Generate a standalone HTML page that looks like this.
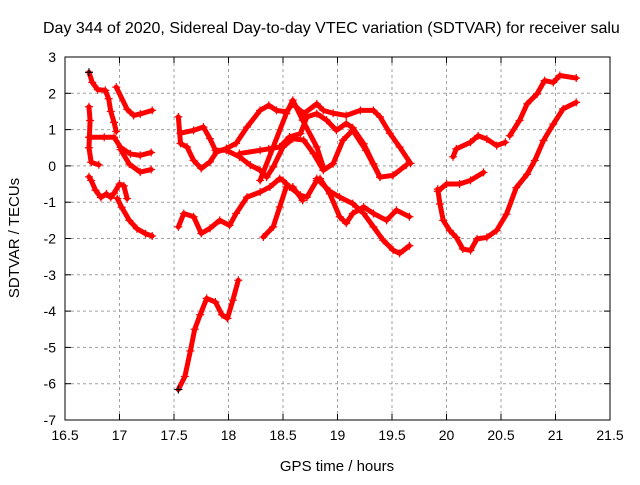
<!DOCTYPE html>
<html><head><meta charset="utf-8"><style>
body{margin:0;background:#fff;}
svg text{font-family:"Liberation Sans",sans-serif;font-size:14px;fill:#000;}
</style></head><body>
<svg id="c" width="640" height="480">
<rect width="640" height="480" fill="#fff"/>
<text x="43" y="33" style="font-size:16px">Day 344 of 2020, Sidereal Day-to-day VTEC variation (SDTVAR) for receiver salu</text>
<text x="337" y="471" text-anchor="middle" style="font-size:15px">GPS time / hours</text>
<text transform="translate(19,238) rotate(-90)" text-anchor="middle" style="font-size:15px">SDTVAR / TECUs</text>
<g id="grid"></g><g id="marks"></g><g id="axes"></g>
</svg>
<script>
const xTicks=[16.5,17,17.5,18,18.5,19,19.5,20,20.5,21,21.5];
const xTickLabels=["16.5","17","17.5","18","18.5","19","19.5","20","20.5","21","21.5"];
const yTicks=[3,2,1,0,-1,-2,-3,-4,-5,-6,-7];
const yTickLabels=["3","2","1","0","-1","-2","-3","-4","-5","-6","-7"];
const track1=[[16.72,2.58],[16.75,2.3],[16.8,2.1],[16.87,2.08],[16.9,1.85],[16.92,1.5],[16.95,1.2],[16.97,0.95]];
const track2=[[16.97,2.17],[17.07,1.56],[17.13,1.39],[17.19,1.43],[17.3,1.53]];
const track3=[[16.72,0.79],[16.86,0.79],[16.95,0.79],[17.01,0.51],[17.1,0.33],[17.19,0.29],[17.29,0.37]];
const track4=[[17.01,0.45],[17.09,0.05],[17.19,-0.17],[17.29,-0.1]];
const track5=[[16.72,1.63],[16.73,1.25],[16.72,0.5],[16.74,0.1],[16.81,0.03]];
const track6=[[16.72,-0.3],[16.74,-0.4],[16.78,-0.67],[16.83,-0.87],[16.88,-0.77],[16.92,-0.87],[16.95,-0.75],[17.0,-0.5],[17.04,-0.55],[17.07,-0.9]];
const track7=[[16.98,-0.9],[17.02,-1.14],[17.09,-1.5],[17.16,-1.73],[17.24,-1.87],[17.3,-1.93]];
const track8=[[17.54,1.35],[17.56,0.62],[17.62,0.52],[17.68,0.15],[17.75,-0.07],[17.83,0.11],[17.89,0.38],[17.98,0.48],[18.07,0.62],[18.17,1.07],[18.29,1.53],[18.37,1.67],[18.44,1.53],[18.53,1.49],[18.59,1.71],[18.69,1.44],[18.81,1.71],[18.87,1.53],[18.96,1.45],[19.08,1.39],[19.21,1.53],[19.33,1.53],[19.39,1.35],[19.48,0.9],[19.57,0.52],[19.67,0.07]];
const track9=[[17.56,0.9],[17.68,0.98],[17.77,1.07],[17.83,0.75],[17.88,0.43],[17.98,0.43],[18.1,0.25],[18.2,0.02],[18.29,-0.12],[18.35,-0.31],[18.41,-0.03],[18.5,0.52],[18.59,0.75],[18.69,0.71],[18.78,0.34],[18.87,-0.12],[18.96,0.06],[19.05,0.71],[19.14,0.98],[19.26,0.43],[19.39,-0.31],[19.51,-0.26],[19.63,0.02]];
const track10=[[18.1,0.34],[18.29,0.43],[18.37,0.47],[18.47,0.52],[18.56,0.8],[18.66,0.89],[18.72,1.35],[18.81,1.44],[18.9,1.26],[18.99,0.98],[19.08,1.17],[19.14,1.05],[19.24,0.61],[19.33,0.06],[19.39,-0.31]];
const track11=[[18.29,-0.4],[18.41,0.52],[18.53,1.44],[18.59,1.81],[18.68,1.26],[18.81,0.52],[18.87,-0.03]];
const track12=[[17.54,-1.68],[17.59,-1.31],[17.68,-1.4],[17.75,-1.86],[17.83,-1.72],[17.92,-1.5],[18.01,-1.64],[18.07,-1.31],[18.17,-0.86],[18.29,-0.72],[18.38,-0.58],[18.47,-0.35],[18.5,-0.4],[18.56,-0.58],[18.66,-0.81],[18.72,-0.86],[18.81,-0.4],[18.84,-0.35],[18.93,-0.77],[19.02,-1.4],[19.08,-1.58],[19.14,-1.31],[19.24,-1.13],[19.33,-1.31],[19.45,-1.5],[19.54,-1.22],[19.66,-1.4]];
const track13=[[18.32,-1.96],[18.41,-1.68],[18.47,-1.13],[18.53,-0.58],[18.59,-0.58],[18.68,-0.95]];
const track14=[[18.81,-0.35],[18.93,-0.7],[19.02,-0.86],[19.14,-1.04],[19.24,-1.31],[19.33,-1.68],[19.42,-2.05],[19.51,-2.32],[19.57,-2.41],[19.66,-2.2]];
const track15=[[17.54,-6.16],[17.6,-5.8],[17.65,-5.1],[17.69,-4.5],[17.74,-4.1],[17.8,-3.65],[17.88,-3.75],[17.94,-4.1],[17.99,-4.2],[18.04,-3.7],[18.09,-3.15]];
const track16=[[20.58,0.83],[20.67,1.25],[20.74,1.71],[20.83,1.98],[20.9,2.35],[20.98,2.3],[21.04,2.49],[21.19,2.42]];
const track17=[[20.06,0.25],[20.09,0.47],[20.22,0.65],[20.29,0.83],[20.37,0.74],[20.46,0.56],[20.54,0.65]];
const track18=[[19.92,-0.64],[19.94,-1.05],[19.97,-1.5],[20.03,-1.78],[20.09,-1.97],[20.15,-2.29],[20.22,-2.33],[20.28,-2.01],[20.37,-1.97],[20.46,-1.78],[20.55,-1.33],[20.64,-0.6],[20.74,-0.23],[20.81,0.15],[20.89,0.7],[20.98,1.15],[21.07,1.57],[21.19,1.75]];
const track19=[[19.92,-0.7],[20.0,-0.5],[20.12,-0.5],[20.22,-0.4],[20.34,-0.18]];
const tracks=[track1,track2,track3,track4,track5,track6,track7,track8,track9,track10,track11,track12,track13,track14,track15,track16,track17,track18,track19];

const L=65,R=610,T=57,B=420,NS="http://www.w3.org/2000/svg";
function sx(v){return L+(v-16.5)/5*(R-L);}
function sy(v){return T+(3-v)/10*(B-T);}
function mk(tag,attrs,parent){const e=document.createElementNS(NS,tag);for(const k in attrs)e.setAttribute(k,attrs[k]);parent.appendChild(e);return e;}
const grid=document.getElementById('grid'),marks=document.getElementById('marks'),axes=document.getElementById('axes');
xTicks.forEach((t,i)=>{const x=sx(t);
 if(i>0&&i<xTicks.length-1){const g=mk('line',{x1:x,x2:x,y1:T,y2:B,stroke:'#a0a0a0','stroke-dasharray':'3,3'},grid);
 
 }
 mk('line',{x1:x,x2:x,y1:B,y2:B-6,stroke:'#000'},axes);mk('line',{x1:x,x2:x,y1:T,y2:T+6,stroke:'#000'},axes);
 const tx=mk('text',{x:x,y:B+20,'text-anchor':'middle'},axes);tx.textContent=xTickLabels[i];
 
 });
yTicks.forEach((t,i)=>{const y=sy(t);
 if(i>0&&i<yTicks.length-1){const g=mk('line',{x1:L,x2:R,y1:y,y2:y,stroke:'#a0a0a0','stroke-dasharray':'3,3'},grid);
 
 }
 mk('line',{x1:L,x2:L+6,y1:y,y2:y,stroke:'#000'},axes);mk('line',{x1:R,x2:R-6,y1:y,y2:y,stroke:'#000'},axes);
 const tx=mk('text',{x:L-9,y:y+5,'text-anchor':'end'},axes);tx.textContent=yTickLabels[i];
 
 });
const fr=mk('rect',{x:L,y:T,width:R-L,height:B-T,fill:'none',stroke:'#000'},axes);


tracks.forEach((tr,ti)=>{
 const g=mk('g',{},marks);
 
 
 mk('polyline',{points:tr.map(p=>sx(p[0])+','+sy(p[1])).join(' '),fill:'none',stroke:'#f00','stroke-width':5,'stroke-linejoin':'round','stroke-linecap':'round'},g);
 tr.forEach((p,pi)=>{const x=sx(p[0]),y=sy(p[1]);const c=(pi===0&&(ti===0||ti===14))?'#000':'#f00';
  const m=mk('path',{d:`M${x-4},${y}H${x+4}M${x},${y-4}V${y+4}`,stroke:c,'stroke-width':1.2},g);
  
  });
});
</script>
</body></html>
